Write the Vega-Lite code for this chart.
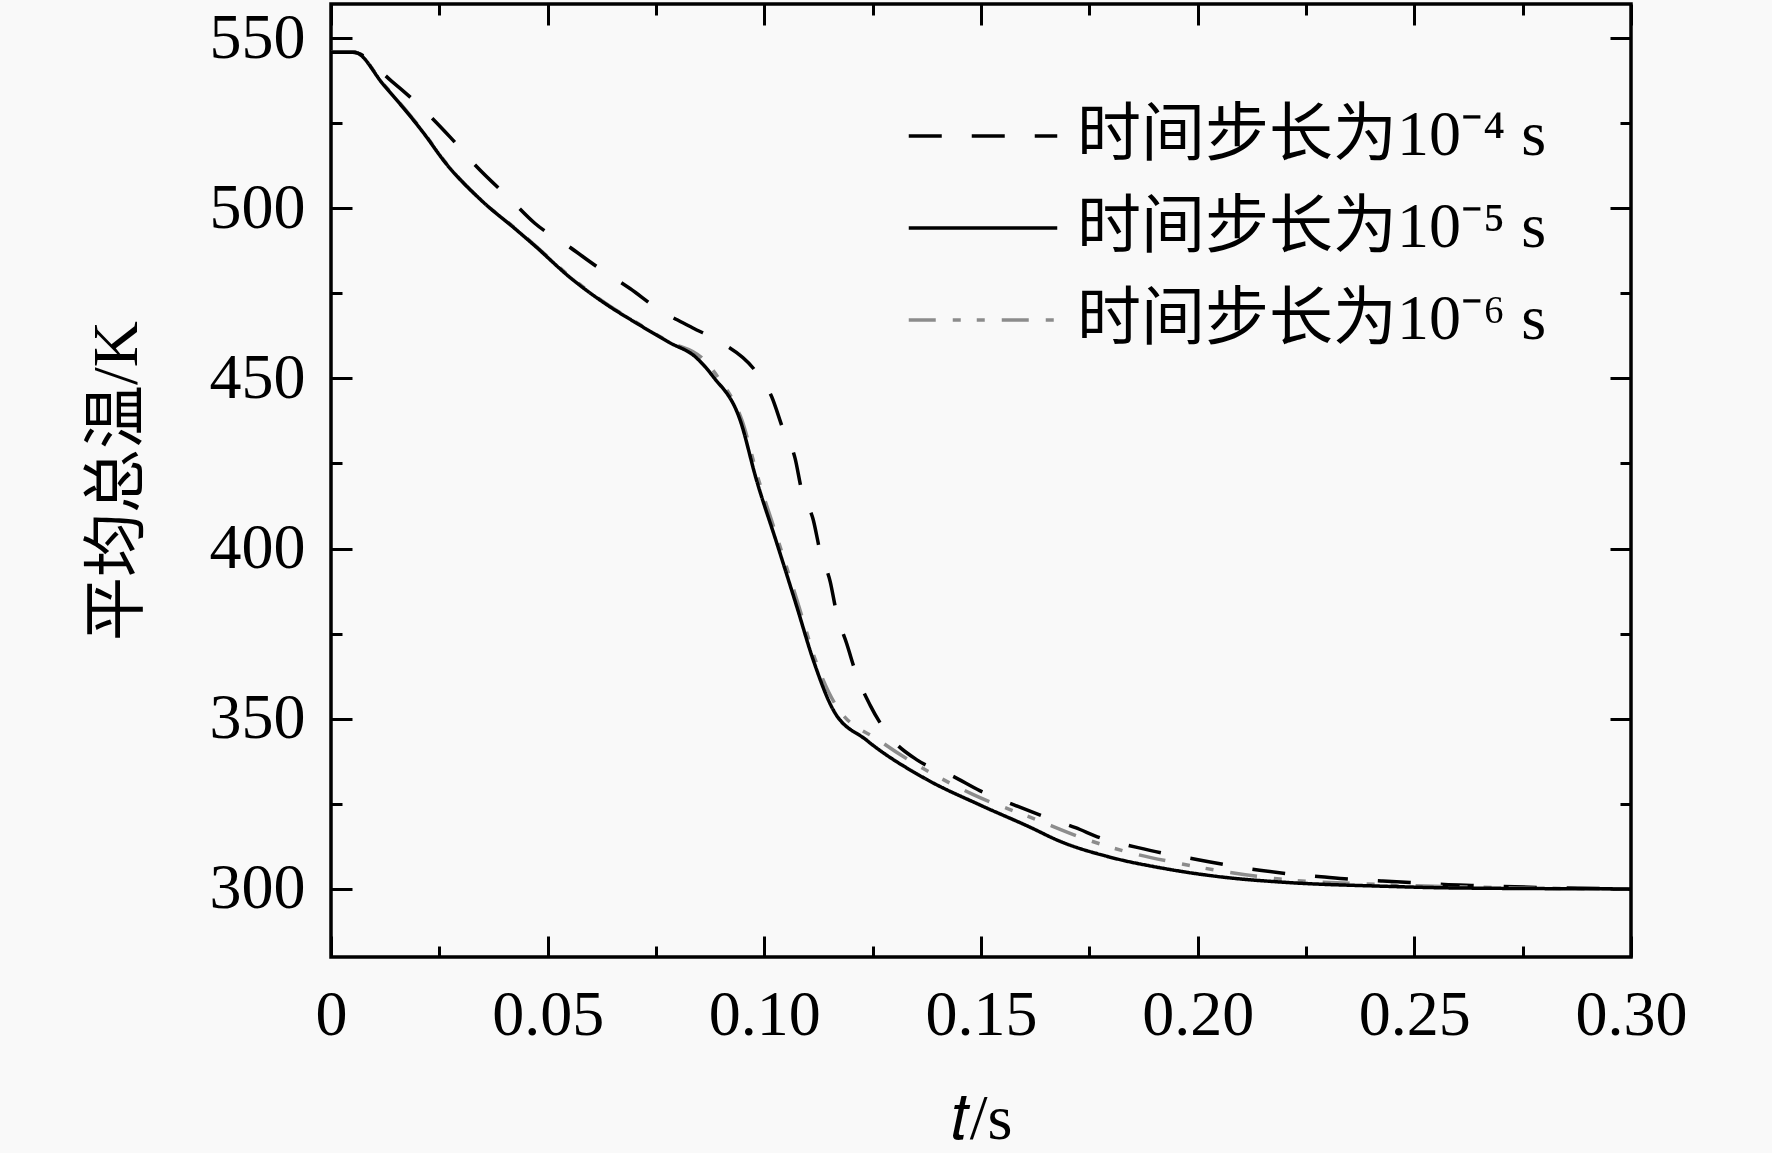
{
  "$schema": "https://vega.github.io/schema/vega-lite/v6.json",
  "width": 1300,
  "height": 953,
  "autosize": {"type": "none"},
  "padding": {"left": 331, "top": 4, "right": 141, "bottom": 196},
  "background": "#f9f9f9",
  "data": {
    "values": [
      {"step": "时间步长为10⁻⁴ s", "t": 0, "T": 545.8},
      {"step": "时间步长为10⁻⁴ s", "t": 0.005, "T": 545.8},
      {"step": "时间步长为10⁻⁴ s", "t": 0.0141, "T": 537.2},
      {"step": "时间步长为10⁻⁴ s", "t": 0.0206, "T": 529.9},
      {"step": "时间步长为10⁻⁴ s", "t": 0.0275, "T": 520.9},
      {"step": "时间步长为10⁻⁴ s", "t": 0.0337, "T": 512.1},
      {"step": "时间步长为10⁻⁴ s", "t": 0.0414, "T": 502.6},
      {"step": "时间步长为10⁻⁴ s", "t": 0.0471, "T": 495.5},
      {"step": "时间步长为10⁻⁴ s", "t": 0.0548, "T": 488.8},
      {"step": "时间步长为10⁻⁴ s", "t": 0.0615, "T": 482.7},
      {"step": "时间步长为10⁻⁴ s", "t": 0.069, "T": 476.4},
      {"step": "时间步长为10⁻⁴ s", "t": 0.0757, "T": 470.2},
      {"step": "时间步长为10⁻⁴ s", "t": 0.0834, "T": 464.9},
      {"step": "时间步长为10⁻⁴ s", "t": 0.09, "T": 460.6},
      {"step": "时间步长为10⁻⁴ s", "t": 0.0975, "T": 452.9},
      {"step": "时间步长为10⁻⁴ s", "t": 0.1017, "T": 444.6},
      {"step": "时间步长为10⁻⁴ s", "t": 0.1044, "T": 434.8},
      {"step": "时间步长为10⁻⁴ s", "t": 0.1071, "T": 426.5},
      {"step": "时间步长为10⁻⁴ s", "t": 0.1086, "T": 417.2},
      {"step": "时间步长为10⁻⁴ s", "t": 0.1113, "T": 408.4},
      {"step": "时间步长为10⁻⁴ s", "t": 0.1129, "T": 399.0},
      {"step": "时间步长为10⁻⁴ s", "t": 0.1152, "T": 390.3},
      {"step": "时间步长为10⁻⁴ s", "t": 0.1167, "T": 380.9},
      {"step": "时间步长为10⁻⁴ s", "t": 0.119, "T": 372.1},
      {"step": "时间步长为10⁻⁴ s", "t": 0.1213, "T": 362.8},
      {"step": "时间步长为10⁻⁴ s", "t": 0.1244, "T": 354.0},
      {"step": "时间步长为10⁻⁴ s", "t": 0.1292, "T": 344.4},
      {"step": "时间步长为10⁻⁴ s", "t": 0.1355, "T": 337.7},
      {"step": "时间步长为10⁻⁴ s", "t": 0.1437, "T": 333.0},
      {"step": "时间步长为10⁻⁴ s", "t": 0.1497, "T": 328.9},
      {"step": "时间步长为10⁻⁴ s", "t": 0.1576, "T": 324.7},
      {"step": "时间步长为10⁻⁴ s", "t": 0.1639, "T": 321.6},
      {"step": "时间步长为10⁻⁴ s", "t": 0.1718, "T": 318.0},
      {"step": "时间步长为10⁻⁴ s", "t": 0.178, "T": 314.8},
      {"step": "时间步长为10⁻⁴ s", "t": 0.186, "T": 312.2},
      {"step": "时间步长为10⁻⁴ s", "t": 0.1923, "T": 310.4},
      {"step": "时间步长为10⁻⁴ s", "t": 0.2001, "T": 308.6},
      {"step": "时间步长为10⁻⁴ s", "t": 0.2064, "T": 307.1},
      {"step": "时间步长为10⁻⁴ s", "t": 0.2143, "T": 305.5},
      {"step": "时间步长为10⁻⁴ s", "t": 0.2206, "T": 304.5},
      {"step": "时间步长为10⁻⁴ s", "t": 0.2285, "T": 303.6},
      {"step": "时间步长为10⁻⁴ s", "t": 0.2348, "T": 302.9},
      {"step": "时间步长为10⁻⁴ s", "t": 0.2427, "T": 302.3},
      {"step": "时间步长为10⁻⁴ s", "t": 0.249, "T": 301.9},
      {"step": "时间步长为10⁻⁴ s", "t": 0.2569, "T": 301.3},
      {"step": "时间步长为10⁻⁴ s", "t": 0.2632, "T": 301.0},
      {"step": "时间步长为10⁻⁴ s", "t": 0.28, "T": 300.4},
      {"step": "时间步长为10⁻⁴ s", "t": 0.3, "T": 300.0},

      {"step": "时间步长为10⁻⁶ s", "t": 0, "T": 545.8},
      {"step": "时间步长为10⁻⁶ s", "t": 0.0054, "T": 545.8},
      {"step": "时间步长为10⁻⁶ s", "t": 0.0121, "T": 536.5},
      {"step": "时间步长为10⁻⁶ s", "t": 0.0213, "T": 522.4},
      {"step": "时间步长为10⁻⁶ s", "t": 0.0265, "T": 513.4},
      {"step": "时间步长为10⁻⁶ s", "t": 0.0347, "T": 502.3},
      {"step": "时间步长为10⁻⁶ s", "t": 0.043, "T": 493.6},
      {"step": "时间步长为10⁻⁶ s", "t": 0.047, "T": 489.2},
      {"step": "时间步长为10⁻⁶ s", "t": 0.0553, "T": 479.8},
      {"step": "时间步长为10⁻⁶ s", "t": 0.0636, "T": 471.9},
      {"step": "时间步长为10⁻⁶ s", "t": 0.0708, "T": 466.2},
      {"step": "时间步长为10⁻⁶ s", "t": 0.078, "T": 460.8},
      {"step": "时间步长为10⁻⁶ s", "t": 0.0857, "T": 455.9},
      {"step": "时间步长为10⁻⁶ s", "t": 0.0895, "T": 450.0},
      {"step": "时间步长为10⁻⁶ s", "t": 0.0948, "T": 437.8},
      {"step": "时间步长为10⁻⁶ s", "t": 0.0987, "T": 420.1},
      {"step": "时间步长为10⁻⁶ s", "t": 0.1034, "T": 401.5},
      {"step": "时间步长为10⁻⁶ s", "t": 0.108, "T": 382.9},
      {"step": "时间步长为10⁻⁶ s", "t": 0.1118, "T": 367.2},
      {"step": "时间步长为10⁻⁶ s", "t": 0.1166, "T": 353.8},
      {"step": "时间步长为10⁻⁶ s", "t": 0.1268, "T": 343.4},
      {"step": "时间步长为10⁻⁶ s", "t": 0.1386, "T": 334.0},
      {"step": "时间步长为10⁻⁶ s", "t": 0.1481, "T": 327.8},
      {"step": "时间步长为10⁻⁶ s", "t": 0.1623, "T": 320.6},
      {"step": "时间步长为10⁻⁶ s", "t": 0.1749, "T": 314.3},
      {"step": "时间步长为10⁻⁶ s", "t": 0.1828, "T": 311.2},
      {"step": "时间步长为10⁻⁶ s", "t": 0.1954, "T": 307.6},
      {"step": "时间步长为10⁻⁶ s", "t": 0.219, "T": 302.9},
      {"step": "时间步长为10⁻⁶ s", "t": 0.2427, "T": 301.3},
      {"step": "时间步长为10⁻⁶ s", "t": 0.2742, "T": 300.3},
      {"step": "时间步长为10⁻⁶ s", "t": 0.3, "T": 300.0},

      {"step": "时间步长为10⁻⁵ s", "t": 0, "T": 545.8},
      {"step": "时间步长为10⁻⁵ s", "t": 0.0054, "T": 545.8},
      {"step": "时间步长为10⁻⁵ s", "t": 0.0121, "T": 536.3},
      {"step": "时间步长为10⁻⁵ s", "t": 0.0213, "T": 522.2},
      {"step": "时间步长为10⁻⁵ s", "t": 0.0265, "T": 513.2},
      {"step": "时间步长为10⁻⁵ s", "t": 0.0347, "T": 502.3},
      {"step": "时间步长为10⁻⁵ s", "t": 0.043, "T": 493.4},
      {"step": "时间步长为10⁻⁵ s", "t": 0.047, "T": 489.0},
      {"step": "时间步长为10⁻⁵ s", "t": 0.0553, "T": 479.5},
      {"step": "时间步长为10⁻⁵ s", "t": 0.0636, "T": 471.7},
      {"step": "时间步长为10⁻⁵ s", "t": 0.0708, "T": 466.0},
      {"step": "时间步长为10⁻⁵ s", "t": 0.078, "T": 460.6},
      {"step": "时间步长为10⁻⁵ s", "t": 0.0842, "T": 456.2},
      {"step": "时间步长为10⁻⁵ s", "t": 0.0882, "T": 450.5},
      {"step": "时间步长为10⁻⁵ s", "t": 0.0944, "T": 437.8},
      {"step": "时间步长为10⁻⁵ s", "t": 0.0982, "T": 420.1},
      {"step": "时间步长为10⁻⁵ s", "t": 0.1029, "T": 401.5},
      {"step": "时间步长为10⁻⁵ s", "t": 0.1075, "T": 382.9},
      {"step": "时间步长为10⁻⁵ s", "t": 0.1113, "T": 367.2},
      {"step": "时间步长为10⁻⁵ s", "t": 0.1159, "T": 352.6},
      {"step": "时间步长为10⁻⁵ s", "t": 0.1236, "T": 343.7},
      {"step": "时间步长为10⁻⁵ s", "t": 0.137, "T": 332.5},
      {"step": "时间步长为10⁻⁵ s", "t": 0.1497, "T": 324.7},
      {"step": "时间步长为10⁻⁵ s", "t": 0.1607, "T": 318.5},
      {"step": "时间步长为10⁻⁵ s", "t": 0.1686, "T": 313.8},
      {"step": "时间步长为10⁻⁵ s", "t": 0.1796, "T": 309.4},
      {"step": "时间步长为10⁻⁵ s", "t": 0.1923, "T": 306.0},
      {"step": "时间步长为10⁻⁵ s", "t": 0.2049, "T": 303.6},
      {"step": "时间步长为10⁻⁵ s", "t": 0.2206, "T": 301.9},
      {"step": "时间步长为10⁻⁵ s", "t": 0.2427, "T": 300.8},
      {"step": "时间步长为10⁻⁵ s", "t": 0.2585, "T": 300.3},
      {"step": "时间步长为10⁻⁵ s", "t": 0.3, "T": 300.0}
    ]
  },
  "encoding": {
    "color": {
      "field": "step",
      "type": "nominal",
      "title": null,
      "scale": {
        "domain": ["时间步长为10⁻⁴ s", "时间步长为10⁻⁵ s", "时间步长为10⁻⁶ s"],
        "range": ["#000000", "#000000", "#8c8c8c"]
      },
      "legend": {"orient": "none", "legendX": 594, "legendY": 74}
    },
    "strokeDash": {
      "field": "step",
      "type": "nominal",
      "title": null,
      "scale": {
        "domain": ["时间步长为10⁻⁴ s", "时间步长为10⁻⁵ s", "时间步长为10⁻⁶ s"],
        "range": [[33, 30], [1, 0], [27, 17, 8, 16, 8, 17]]
      },
      "legend": {"orient": "none", "legendX": 594, "legendY": 74}
    }
  },
  "layer": [
    {
      "transform": [{"filter": "datum.step == '时间步长为10⁻⁴ s'"}],
      "mark": {"type": "line", "strokeWidth": 3.5, "interpolate": "monotone"},
      "encoding": {
        "x": {
          "field": "t",
          "type": "quantitative",
          "scale": {"domain": [0, 0.3], "nice": false, "zero": false},
          "axis": {
            "orient": "bottom",
            "values": [0, 0.05, 0.1, 0.15, 0.2, 0.25, 0.3],
            "labelExpr": "datum.value == 0 ? '0' : format(datum.value, '.2f')",
            "tickSize": -21,
            "labelPadding": 47,
            "title": "𝑡/s",
            "titlePadding": 40
          }
        },
        "y": {
          "field": "T",
          "type": "quantitative",
          "scale": {"domain": [280, 560], "nice": false, "zero": false},
          "axis": {
            "orient": "left",
            "values": [300, 350, 400, 450, 500, 550],
            "tickSize": -21,
            "labelPadding": 47,
            "title": "平均总温/K",
            "titlePadding": 60
          }
        }
      }
    },
    {
      "transform": [{"filter": "datum.step == '时间步长为10⁻⁶ s'"}],
      "mark": {"type": "line", "strokeWidth": 3.5, "interpolate": "monotone"},
      "encoding": {
        "x": {
          "field": "t",
          "type": "quantitative",
          "axis": {
            "orient": "top",
            "values": [0, 0.05, 0.1, 0.15, 0.2, 0.25, 0.3],
            "labels": false,
            "tickSize": -21,
            "title": null
          }
        },
        "y": {
          "field": "T",
          "type": "quantitative",
          "axis": {
            "orient": "right",
            "values": [300, 350, 400, 450, 500, 550],
            "labels": false,
            "tickSize": -21,
            "title": null
          }
        }
      }
    },
    {
      "transform": [{"filter": "datum.step == '时间步长为10⁻⁵ s'"}],
      "mark": {"type": "line", "strokeWidth": 3.5, "interpolate": "monotone"},
      "encoding": {
        "x": {
          "field": "t",
          "type": "quantitative",
          "axis": {
            "orient": "bottom",
            "values": [0.025, 0.075, 0.125, 0.175, 0.225, 0.275],
            "labels": false,
            "tickSize": -11,
            "title": null
          }
        },
        "y": {
          "field": "T",
          "type": "quantitative",
          "axis": {
            "orient": "left",
            "values": [325, 375, 425, 475, 525],
            "labels": false,
            "tickSize": -11,
            "title": null
          }
        }
      }
    },
    {
      "transform": [{"filter": "datum.step == '时间步长为10⁻⁶ s'"}],
      "mark": {"type": "point", "opacity": 0},
      "encoding": {
        "color": null,
        "strokeDash": null,
        "x": {
          "field": "t",
          "type": "quantitative",
          "axis": {
            "orient": "top",
            "values": [0.025, 0.075, 0.125, 0.175, 0.225, 0.275],
            "labels": false,
            "tickSize": -11,
            "title": null
          }
        },
        "y": {
          "field": "T",
          "type": "quantitative",
          "axis": {
            "orient": "right",
            "values": [325, 375, 425, 475, 525],
            "labels": false,
            "tickSize": -11,
            "title": null
          }
        }
      }
    }
  ],
  "resolve": {"axis": {"x": "independent", "y": "independent"}},
  "config": {
    "font": "Liberation Serif, Noto Sans CJK SC",
    "view": {"stroke": "#000000", "strokeWidth": 3.5},
    "axis": {
      "domain": false,
      "grid": false,
      "ticks": true,
      "tickColor": "#000000",
      "tickWidth": 3,
      "labelFont": "Liberation Serif",
      "labelFontSize": 64,
      "labelColor": "#000000",
      "labelFlush": false,
      "labelOverlap": false,
      "titleFont": "Liberation Serif, Noto Sans CJK SC",
      "titleFontSize": 64,
      "titleFontWeight": "normal",
      "titleColor": "#000000"
    },
    "legend": {
      "symbolType": "M-1.32,0H1.32",
      "symbolSize": 12656,
      "symbolStrokeWidth": 3.5,
      "symbolFillColor": "transparent",
      "labelFont": "Liberation Serif, Noto Sans CJK SC",
      "labelFontSize": 64,
      "labelColor": "#000000",
      "labelOffset": 36,
      "labelLimit": 0
    }
  }
}
